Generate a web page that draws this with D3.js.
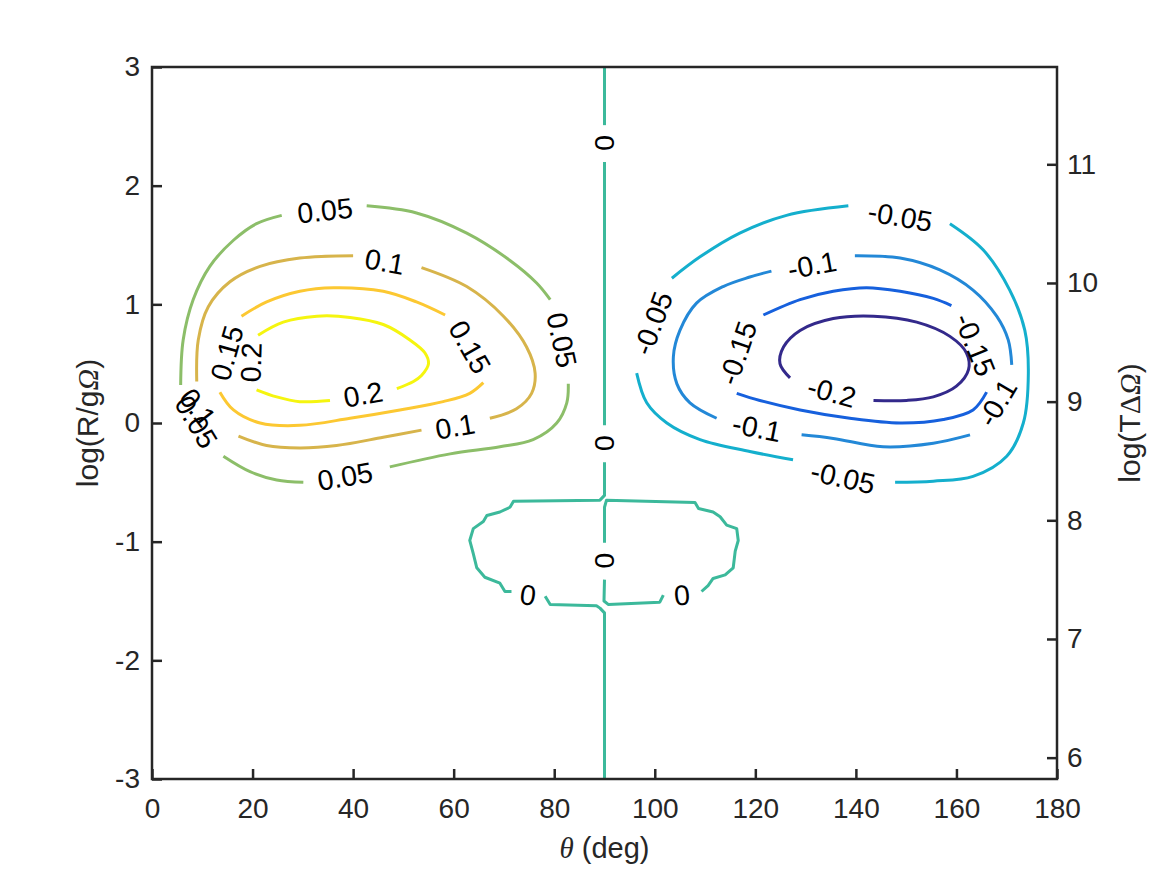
<!DOCTYPE html>
<html>
<head>
<meta charset="utf-8">
<script src="https://cdn.jsdelivr.net/npm/d3@7"></script>
<style>
  body { margin: 0; background: #fff; }
  svg { display: block; }
  .tick text { font-family: "Liberation Sans", Arial, Helvetica, sans-serif; fill: #262626; }
</style>
</head>
<body>
<svg id="chart" width="1167" height="875"></svg>
<script>
// axis ticks
var thetaTicks = [0, 20, 40, 60, 80, 100, 120, 140, 160, 180];
var logRTicks = [-3, -2, -1, 0, 1, 2, 3];
var logTTicks = [6, 7, 8, 9, 10, 11];
var logTDomain = [5.82, 11.82];

// contour levels, each read as a list of pieces [theta, logR] broken at the labels
var levels = [-0.2, -0.15, -0.1, -0.05, 0, 0.05, 0.1, 0.15, 0.2];

var piecesP005 = [
    [[5.7, 0.32], [6.2, 0.70], [8.2, 1.04], [11.5, 1.32], [16.2, 1.54], [20.8, 1.68], [25.8, 1.75]],
    [[42.7, 1.83], [52.6, 1.77], [62.6, 1.60], [71.2, 1.37], [76.5, 1.18], [79.2, 1.04]],
    [[82.8, 0.33], [82.5, 0.17], [80.5, 0.00], [75.8, -0.14], [69.2, -0.20], [59.3, -0.26], [47.3, -0.37]],
    [[30.1, -0.50], [24.8, -0.48], [19.5, -0.41], [14.2, -0.28]]
];
var piecesP010 = [
    [[8.9, 0.35], [9.2, 0.70], [11.2, 0.98], [15.5, 1.19], [21.5, 1.32], [29.4, 1.39], [40.0, 1.41]],
    [[53.6, 1.31], [62.6, 1.15], [69.9, 0.90], [74.5, 0.64], [76.2, 0.42], [75.5, 0.25], [72.5, 0.12], [67.2, 0.04]],
    [[53.6, -0.06], [46.0, -0.12], [36.7, -0.19], [29.4, -0.21], [22.8, -0.19], [17.2, -0.11]]
];
var piecesP015 = [
    [[17.8, 0.90], [22.8, 1.02], [29.4, 1.11], [36.1, 1.14], [46.0, 1.11], [52.6, 1.02], [58.3, 0.91]],
    [[65.9, 0.34], [63.2, 0.25], [57.9, 0.18], [49.3, 0.11], [39.4, 0.04], [29.4, -0.02], [21.5, 0.00], [16.2, 0.11], [13.5, 0.26]]
];
var piecesP020 = [
    [[21.1, 0.74], [26.1, 0.85], [32.8, 0.90], [39.4, 0.89], [46.0, 0.83], [51.3, 0.70], [54.3, 0.59],
     [55.0, 0.50], [53.6, 0.40], [52.0, 0.35], [48.7, 0.29]],
    [[35.4, 0.19], [29.4, 0.18], [24.8, 0.22], [20.8, 0.28]]
];
var pieces000 = [
    [[90, 3.0], [90, 2.51]],
    [[90, 2.20], [90, -0.02]],
    [[90, -0.33], [90, -0.61], [89.1, -0.65], [71.9, -0.66], [71.2, -0.71], [69.2, -0.75], [66.6, -0.78],
     [65.9, -0.83], [63.9, -0.89], [63.2, -0.99], [63.9, -1.10], [64.6, -1.22], [66.2, -1.30], [69.2, -1.35],
     [70.2, -1.42], [71.5, -1.42]],
    [[78.2, -1.46], [79.2, -1.53], [88.4, -1.54], [89.1, -1.56], [90, -1.60], [90, -3.0]],
    [[90, -1.01], [90, -0.71], [90.4, -0.65], [108.0, -0.67], [108.7, -0.72], [111.6, -0.75], [113.0, -0.79],
     [114.3, -0.86], [116.3, -0.89], [116.6, -0.99], [116.0, -1.08], [115.6, -1.22], [114.0, -1.28],
     [111.6, -1.31], [110.6, -1.37], [109.3, -1.42]],
    [[101.7, -1.45], [101.0, -1.51], [90.8, -1.53], [89.9, -1.50], [90, -1.32]]
];
var piecesM005 = [
    [[103.4, 1.22], [109.0, 1.40], [116.9, 1.60], [126.2, 1.75], [138.5, 1.83]],
    [[158.7, 1.68], [165.3, 1.46], [170.6, 1.12], [173.6, 0.78], [174.3, 0.42], [173.3, 0.00], [170.0, -0.28],
     [163.3, -0.45], [155.4, -0.49], [147.8, -0.50]],
    [[127.5, -0.31], [118.9, -0.24], [109.0, -0.14], [102.4, 0.00], [98.4, 0.17], [96.4, 0.42]]
];
var piecesM010 = [
    [[139.8, 1.41], [148.8, 1.39], [156.7, 1.29], [163.3, 1.12], [168.0, 0.90], [170.3, 0.70], [171.0, 0.49]],
    [[162.7, -0.10], [155.4, -0.17], [145.4, -0.20], [135.5, -0.13], [129.2, -0.10]],
    [[112.3, 0.04], [107.0, 0.17], [104.4, 0.33], [103.7, 0.56], [105.0, 0.78], [108.3, 1.01], [113.6, 1.15],
     [118.9, 1.23], [123.2, 1.28]]
];
var piecesM015 = [
    [[121.6, 0.91], [128.9, 1.04], [135.5, 1.11], [142.1, 1.14], [148.8, 1.11], [155.4, 1.05], [159.0, 0.99]],
    [[166.0, 0.26], [163.3, 0.11], [157.4, 0.03], [148.8, 0.00], [138.8, 0.04], [128.9, 0.11], [120.9, 0.19], [116.3, 0.25]]
];
var piecesM020 = [
    [[126.9, 0.38], [124.9, 0.50], [125.6, 0.64], [128.9, 0.78], [135.5, 0.88], [143.5, 0.90], [152.1, 0.85],
     [158.7, 0.73], [162.0, 0.59], [162.4, 0.45], [160.0, 0.31], [155.4, 0.22], [150.1, 0.19], [143.5, 0.19]]
];
var contourPieces = [piecesM020, piecesM015, piecesM010, piecesM005, pieces000,
                     piecesP005, piecesP010, piecesP015, piecesP020];

// inline labels
var labelLevel = [0.05, 0.05, 0.05, 0.05, 0.1, 0.1, 0.1, 0.15, 0.15, 0.2, 0.2,
                  0, 0, 0, 0, 0, -0.05, -0.05, -0.05, -0.1, -0.1, -0.1, -0.15, -0.15, -0.2];
var labelTheta = [34.4, 81.5, 38.4, 8.8, 46.3, 60.3, 9.1, 63.2, 14.9, 42.0, 19.7,
                  90, 90, 90, 74.8, 105.4, 148.8, 137.4, 99.6, 131.3, 168.1, 120.3, 163.7, 116.5, 135.2];
var labelLogR = [1.79, 0.70, -0.45, 0.01, 1.36, -0.03, 0.13, 0.64, 0.59, 0.24, 0.51,
                 2.36, -0.17, -1.16, -1.45, -1.45, 1.74, -0.46, 0.84, 1.33, 0.17, -0.04, 0.66, 0.59, 0.26];

var levelColors = ['#33298b', '#1660dd', '#2388d7', '#14afcd', '#3cb99b',
                   '#8cbe69', '#d7b44b', '#fcc832', '#f5f50f'];

(function() {
    var svg = d3.select('#chart');
    var plotLeft = 152, plotRight = 1057, plotTop = 67, plotBottom = 779;
    var font = '"Liberation Sans", Arial, Helvetica, sans-serif';
    var serif = '"Liberation Serif", "Times New Roman", serif';
    var ink = '#262626';

    var x = d3.scaleLinear().domain([0, 180]).range([plotLeft, plotRight]);
    var y = d3.scaleLinear().domain([-3, 3]).range([plotBottom, plotTop]);
    var yRight = d3.scaleLinear().domain(logTDomain).range([plotBottom, plotTop]);
    var color = d3.scaleOrdinal().domain(levels).range(levelColors);

    svg.append('defs').append('clipPath').attr('id', 'plot-clip')
        .append('rect')
        .attr('x', plotLeft).attr('y', plotTop)
        .attr('width', plotRight - plotLeft).attr('height', plotBottom - plotTop);

    var line = d3.line()
        .x(function(d) { return x(d[0]); })
        .y(function(d) { return y(d[1]); });

    var plot = svg.append('g').attr('clip-path', 'url(#plot-clip)');

    levels.forEach(function(level, i) {
        var curve = level === 0 ? d3.curveLinear : d3.curveCatmullRom.alpha(0.5);
        plot.selectAll(null)
            .data(contourPieces[i])
            .enter().append('path')
            .attr('d', line.curve(curve))
            .attr('fill', 'none')
            .attr('stroke', color(level))
            .attr('stroke-width', 3)
            .attr('stroke-linejoin', 'round')
            .attr('stroke-linecap', 'butt');
    });

    // label angle follows the gap between the two nearest piece ends
    function labelAngle(level, lx, ly) {
        var ends = [];
        contourPieces[levels.indexOf(level)].forEach(function(p) {
            ends.push([x(p[0][0]), y(p[0][1])]);
            ends.push([x(p[p.length - 1][0]), y(p[p.length - 1][1])]);
        });
        ends.sort(function(a, b) {
            return Math.hypot(a[0] - lx, a[1] - ly) - Math.hypot(b[0] - lx, b[1] - ly);
        });
        var a = Math.atan2(ends[1][1] - ends[0][1], ends[1][0] - ends[0][0]) * 180 / Math.PI;
        if (a > 90) a -= 180;
        if (a <= -90) a += 180;
        return a;
    }

    labelLevel.forEach(function(level, i) {
        var lx = x(labelTheta[i]), ly = y(labelLogR[i]);
        svg.append('text')
            .attr('transform', 'translate(' + lx + ',' + ly + ') rotate(' + labelAngle(level, lx, ly) + ')')
            .attr('text-anchor', 'middle')
            .attr('dy', '0.35em')
            .style('font-family', font)
            .style('font-size', '28.5px')
            .style('fill', '#000')
            .text(String(level));
    });

    // axes
    var fmt = function(d) { return String(d); };

    var xAxis = svg.append('g')
        .attr('transform', 'translate(0,' + plotBottom + ')')
        .call(d3.axisBottom(x).tickValues(thetaTicks).tickFormat(fmt)
            .tickSizeInner(-10).tickSizeOuter(0).tickPadding(19));
    var yAxis = svg.append('g')
        .attr('transform', 'translate(' + plotLeft + ',0)')
        .call(d3.axisLeft(y).tickValues(logRTicks).tickFormat(fmt)
            .tickSizeInner(-10).tickSizeOuter(0).tickPadding(12));
    var yAxisRight = svg.append('g')
        .attr('transform', 'translate(' + plotRight + ',0)')
        .call(d3.axisRight(yRight).tickValues(logTTicks).tickFormat(fmt)
            .tickSizeInner(-10).tickSizeOuter(0).tickPadding(10));

    [xAxis, yAxis, yAxisRight].forEach(function(g) {
        g.select('.domain').remove();
        g.selectAll('.tick line').attr('stroke', ink).attr('stroke-width', 2.5);
        g.selectAll('.tick text').style('font-size', '28px');
    });

    svg.append('rect')
        .attr('x', plotLeft).attr('y', plotTop)
        .attr('width', plotRight - plotLeft).attr('height', plotBottom - plotTop)
        .attr('fill', 'none')
        .attr('stroke', ink)
        .attr('stroke-width', 2.5);

    // axis titles
    var xTitle = svg.append('text')
        .attr('x', (plotLeft + plotRight) / 2)
        .attr('y', 858)
        .attr('text-anchor', 'middle')
        .style('font-family', font)
        .style('font-size', '29px')
        .style('fill', ink);
    xTitle.append('tspan').style('font-family', serif).style('font-style', 'italic').text('θ');
    xTitle.append('tspan').text(' (deg)');

    var yTitle = svg.append('text')
        .attr('transform', 'translate(98,' + (plotTop + plotBottom) / 2 + ') rotate(-90)')
        .attr('text-anchor', 'middle')
        .style('font-family', font)
        .style('font-size', '30px')
        .style('fill', ink);
    yTitle.append('tspan').text('log(R/g');
    yTitle.append('tspan').style('font-family', serif).style('font-style', 'italic').text('Ω');
    yTitle.append('tspan').text(')');

    var yRightTitle = svg.append('text')
        .attr('transform', 'translate(1140,' + (plotTop + plotBottom) / 2 + ') rotate(-90)')
        .attr('text-anchor', 'middle')
        .style('font-family', font)
        .style('font-size', '30px')
        .style('fill', ink);
    yRightTitle.append('tspan').text('log(T');
    yRightTitle.append('tspan').style('font-family', serif).text('Δ');
    yRightTitle.append('tspan').style('font-family', serif).style('font-style', 'italic').text('Ω');
    yRightTitle.append('tspan').text(')');
})();
</script>
</body>
</html>
